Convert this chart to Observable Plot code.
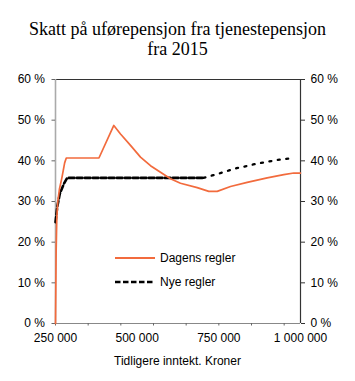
<!DOCTYPE html>
<html><head><meta charset="utf-8">
<script src="https://cdn.jsdelivr.net/npm/d3@7"></script>
<script src="https://cdn.jsdelivr.net/npm/@observablehq/plot@0.6"></script>
<style>
body{margin:0;background:#fff;}
#wrap{position:relative;width:355px;height:381px;overflow:hidden;}
#title{font-family:"Liberation Serif",serif;font-size:18px;line-height:20px;text-align:center;padding-top:19px;height:43px;color:#000;}
#chart svg{display:block;}
.txt{position:absolute;font-family:"Liberation Sans",Arial,sans-serif;font-size:12px;line-height:14px;color:#000;white-space:nowrap;}
.sw{position:absolute;}
</style></head>
<body>
<div id="wrap">
<div id="title">Skatt på uførepensjon fra tjenestepensjon<br>fra 2015</div>
<div id="chart"></div>
<div class="txt" id="xlabel" style="left:0;width:355px;text-align:center;top:354px;">Tidligere inntekt. Kroner</div>
<svg class="sw" style="left:115px;top:250px" width="42" height="16"><line x1="0" x2="40" y1="8" y2="8" stroke="#f26b3d" stroke-width="1.8"/></svg>
<div class="txt" style="left:160px;top:251px;">Dagens regler</div>
<svg class="sw" style="left:115px;top:274px" width="42" height="16"><line x1="0" x2="40" y1="8" y2="8" stroke="#000" stroke-width="2.6" stroke-dasharray="5.5,2.5"/></svg>
<div class="txt" style="left:160px;top:275px;">Nye regler</div>
</div>
<script>
// Series: Dagens regler (current rules)
const dagensIncome = [250000, 252000, 254000, 257000, 262000, 270000, 278000, 283000, 383000, 428500, 449000, 479600, 510200, 540800, 571400, 602000, 632600, 683800, 719300, 745000, 785700, 836800, 898000, 948900, 979500, 1000000];
const dagensRate   = [0, 18, 26, 30, 33, 36, 39.5, 40.7, 40.7, 48.7, 46.6, 43.8, 40.9, 38.8, 37.2, 35.6, 34.5, 33.4, 32.5, 32.5, 33.7, 34.7, 35.8, 36.6, 37.0, 37.0];
// Series: Nye regler (new rules)
const nyeIncome = [250000, 255200, 263200, 275400, 285800, 703000, 729700, 755100, 779600, 804100, 828600, 855200, 892900, 928700, 969400, 980000];
const nyeRate   = [24.9, 28.6, 31.9, 34.3, 35.8, 35.8, 36.4, 37.0, 37.6, 38.2, 38.6, 39.1, 39.7, 40.2, 40.6, 40.7];
const nyeFlatEnd = 703000;

const xDomain = [250000, 1000000];
const yDomain = [0, 60];
const xTickLabels = [250000, 500000, 750000, 1000000];
const xTickMarks = [250000, 350000, 450000, 550000, 650000, 750000, 850000, 950000];
const yTicks = [0, 10, 20, 30, 40, 50, 60];

const dagens = dagensIncome.map((x, i) => ({x, y: dagensRate[i]}));
const nye = nyeIncome.map((x, i) => ({x, y: nyeRate[i]}));
const fmtX = d => d3.format(",")(d).replace(/,/g, " ");
const fmtY = d => d + " %";

const plot = Plot.plot({
  width: 355,
  height: 319,
  marginTop: 17,
  marginBottom: 58,
  marginLeft: 55,
  marginRight: 55,
  style: {fontFamily: "Liberation Sans, Arial, sans-serif", fontSize: "12px", color: "#000", background: "transparent"},
  x: {type: "linear", domain: xDomain},
  y: {domain: yDomain},
  marks: [
    Plot.ruleY([yDomain[1]], {stroke: "#333", strokeWidth: 1.2}),
    Plot.ruleX([xDomain[1]], {stroke: "#333", strokeWidth: 1.2}),
    Plot.ruleY([yDomain[0]], {stroke: "#888", strokeWidth: 1.2}),
    Plot.ruleX([xDomain[0]], {stroke: "#aaa", strokeWidth: 1.6}),
    Plot.axisY({anchor: "left", ticks: yTicks, tickSize: 3.5, tickPadding: 7, tickFormat: fmtY, label: null, stroke: "#666", fill: "#000", fontSize: 12}),
    Plot.axisY({anchor: "right", ticks: yTicks, tickSize: 4, tickPadding: 6, tickFormat: fmtY, label: null, stroke: "#333", fill: "#000", fontSize: 12}),
    Plot.axisX({anchor: "bottom", ticks: xTickMarks, tickSize: 2.5, tickFormat: () => "", label: null, stroke: "#666"}),
    Plot.axisX({anchor: "bottom", ticks: xTickLabels, tickSize: 0, tickPadding: 10, tickFormat: fmtX, label: null, fill: "#000", fontSize: 12}),
    Plot.line(nye.filter(d => d.x <= nyeFlatEnd), {x: "x", y: "y", stroke: "#000", strokeWidth: 2.6, strokeDasharray: "5.5,2.5"}),
    Plot.line(nye.filter(d => d.x >= nyeFlatEnd), {x: "x", y: "y", stroke: "#000", strokeWidth: 2.3, strokeDasharray: "2,6.5"}),
    Plot.line(dagens, {x: "x", y: "y", stroke: "#f26b3d", strokeWidth: 1.7})
  ]
});
document.getElementById("chart").appendChild(plot);
</script>
</body></html>
